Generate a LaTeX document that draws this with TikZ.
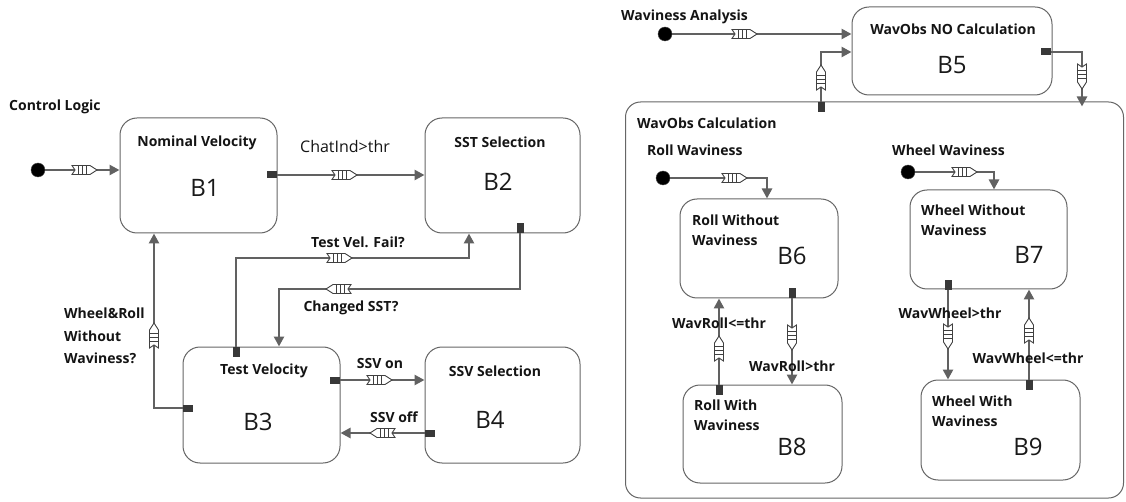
\documentclass[tikz,border=0pt]{standalone}
\usepackage{fontspec}
\setmainfont{Open Sans}
\usetikzlibrary{arrows.meta}
\begin{document}
\begin{tikzpicture}[x=1pt,y=-1pt,
  state/.style={draw=black!60, line width=1pt, rounded corners=17pt, inner sep=0pt},
  ttl/.style={font=\bfseries\fontsize{14}{20}\selectfont, text=black!92, inner sep=0pt},
  big/.style={font=\fontsize{24}{24}\selectfont, text=black!90, inner sep=0pt},
  flow/.style={draw=black!62, line width=2.6pt, -{Triangle[length=10pt,width=10pt]}},
  port/.style={fill=black!78, draw=none, inner sep=0pt, minimum width=10pt, minimum height=7pt},
  vport/.style={fill=black!78, draw=none, inner sep=0pt, minimum width=7pt, minimum height=10pt},
  init/.style={circle, fill=black, draw=black!70, minimum size=14pt, inner sep=0pt},
  token/.pic={
    \path[draw=black!75, fill=white, line width=0.9pt]
      (-13,-4.5) -- (5,-4.5) -- (12,0) -- (5,4.5) -- (-13,4.5) -- (-10,0) -- cycle;
    \draw[black!75, line width=0.9pt] (-6.5,-4.5) -- (-6.5,4.5) (-2.5,-4.5) -- (-2.5,4.5) (1.5,-4.5) -- (1.5,4.5);
  }
]
\path[use as bounding box, fill=white] (0,0) rectangle (1126,502);

% ---------------- Control Logic ----------------
\node[ttl, anchor=west] (cl) at (9,107) {Control Logic};
\node[init] (i1) at (38,170) {};

\node[state, minimum width=157pt, minimum height=115pt] (B1) at (198.5,175.5) {};
\node[state, minimum width=155pt, minimum height=115pt] (B2) at (502.5,175.5) {};
\node[state, minimum width=157pt, minimum height=116pt] (B3) at (261.5,405) {};
\node[state, minimum width=155pt, minimum height=116pt] (B4) at (502.5,405) {};

\node[ttl] (B1t) at (197,143) {Nominal Velocity};
\node[big] (B1n) at (205,188) {B1};
\node[ttl] (B2t) at (500,142) {SST Selection};
\node[big] (B2n) at (498,182) {B2};
\node[ttl] (B3t) at (264,371) {Test Velocity};
\node[big] (B3n) at (258,422) {B3};
\node[ttl] (B4t) at (495,371) {SSV Selection};
\node[big] (B4n) at (490,420) {B4};

% ports
\node[port] (p1) at (272,175) {};
\node[vport] (p3a) at (236,352) {};
\node[vport] (p2) at (520,228) {};
\node[port] (p3b) at (188,408) {};
\node[port] (p3c) at (335,380) {};
\node[port] (p4) at (430,433) {};

\coordinate (c1) at (469,258);
\coordinate (c2) at (279,289);
\coordinate (c3) at (154,0);

\draw[flow] (i1) -- (B1.west |- i1);
\pic at (85,170) {token};

\draw[flow] (p1.east) -- (B2.west |- p1);
\pic at (345,175) {token};
\node[inner sep=0pt, font=\fontsize{16}{20}\selectfont, text=black!92] (l1) at (345,147) {ChatInd>thr};

\draw[flow] (p3a.north) |- (c1) -- (c1 |- B2.south);
\pic at (340,258) {token};
\node[ttl] (l2) at (358,242) {Test Vel. Fail?};

\draw[flow] (p2.south) |- (c2) -- (c2 |- B3.north);
\pic[rotate=180] at (338,289) {token};
\node[ttl] (l3) at (351,308) {Changed SST?};

\draw[flow] (p3b.west) -| (c3 |- B1.south);
\pic[rotate=90] at (154,335) {token};
\node[ttl, anchor=west, align=left, font=\bfseries\fontsize{14}{22.5}\selectfont] (l4) at (64,336) {Wheel\&Roll\\Without\\Waviness?};

\draw[flow] (p3c.east) -- (B4.west |- p3c);
\pic at (380,380) {token};
\node[ttl] (l5) at (380,363) {SSV on};

\draw[flow] (p4.west) -- (B3.east |- p4);
\pic[rotate=180] at (382,433) {token};
\node[ttl] (l6) at (394,417) {SSV off};

% ---------------- Waviness Analysis ----------------
\node[ttl, anchor=west] (wa) at (621,17) {Waviness Analysis};
\node[init] (i2) at (665,34) {};

\node[state, minimum width=200pt, minimum height=88pt] (B5) at (952,51) {};
\node[ttl] (B5t) at (953,29) {WavObs NO Calculation};
\node[big] (B5n) at (952,65) {B5};

\node[state, rounded corners=15pt, minimum width=498pt, minimum height=396pt] (big) at (874.5,300) {};
\node[ttl, anchor=west] (bigt) at (637,123) {WavObs Calculation};

\node[vport] (pb) at (821,107) {};
\node[port] (p5) at (1046,52) {};
\coordinate (c4) at (0,52);
\coordinate (c5) at (1082,0);

\draw[flow] (i2) -- (B5.west |- i2);
\pic at (745,34) {token};

\draw[flow] (pb.north) |- (B5.west |- c4);
\pic[rotate=90] at (821,77) {token};

\draw[flow] (p5.east) -| ([yshift=-5pt]c5 |- big.north);
\pic[rotate=-90] at (1082,77) {token};

% Roll waviness
\node[ttl, anchor=west] (rw) at (647,150) {Roll Waviness};
\node[init] (i3) at (663,178) {};
\node[state, minimum width=158pt, minimum height=99pt] (B6) at (759,248.5) {};
\node[ttl, anchor=north west, align=left] (B6t) at (692,215) {Roll Without\\Waviness};
\node[big] (B6n) at (792,256) {B6};

\node[state, minimum width=159pt, minimum height=98pt] (B8) at (762.5,434) {};
\node[ttl, anchor=north west, align=left] (B8t) at (694,400) {Roll With\\Waviness};
\node[big] (B8n) at (792,447) {B8};

\coordinate (c6) at (767,0);
\draw[flow] (i3) -| (c6 |- B6.north);
\pic at (735,178) {token};

\node[vport] (p8) at (719,390) {};
\node[vport] (p6) at (792,293) {};
\draw[flow] (p8.north) -- (p8 |- B6.south);
\pic[rotate=90] at (719,348) {token};
\node[ttl] (l7) at (719,323) {WavRoll<=thr};
\draw[flow] (p6.south) -- (p6 |- B8.north);
\pic[rotate=-90] at (792,338) {token};
\node[ttl] (l8) at (792,366) {WavRoll>thr};

% Wheel waviness
\node[ttl, anchor=west] (ww) at (892,150) {Wheel Waviness};
\node[init] (i4) at (908,172) {};
\node[state, minimum width=157pt, minimum height=99pt] (B7) at (988.5,239.5) {};
\node[ttl, anchor=north west, align=left] (B7t) at (921,205) {Wheel Without\\Waviness};
\node[big] (B7n) at (1029,255) {B7};

\node[state, minimum width=159pt, minimum height=100pt] (B9) at (1000.5,430) {};
\node[ttl, anchor=north west, align=left] (B9t) at (932,396) {Wheel With\\Waviness};
\node[big] (B9n) at (1028,447) {B9};

\coordinate (c7) at (994,0);
\draw[flow] (i4) -| (c7 |- B7.north);
\pic at (965,172) {token};

\node[vport] (p7) at (948,285) {};
\node[vport] (p9) at (1029,385) {};
\draw[flow] (p7.south) -- (p7 |- B9.north);
\pic[rotate=-90] at (948,337) {token};
\node[ttl] (l9) at (950,313) {WavWheel>thr};
\draw[flow] (p9.north) -- (p9 |- B7.south);
\pic[rotate=90] at (1029,330) {token};
\node[ttl] (l10) at (1028,358) {WavWheel<=thr};
\end{tikzpicture}
\end{document}
